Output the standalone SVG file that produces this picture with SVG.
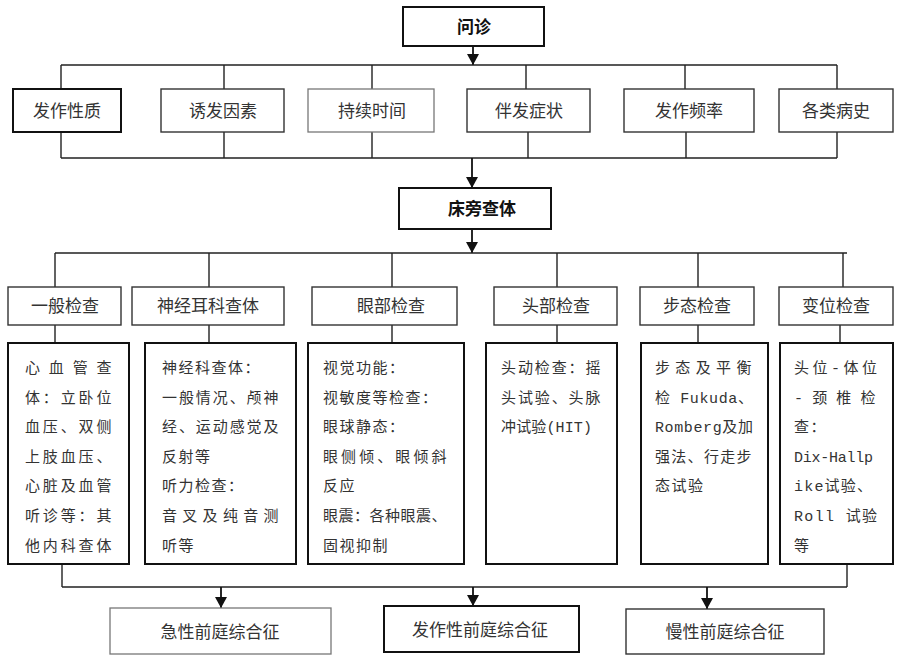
<svg xmlns="http://www.w3.org/2000/svg" width="900" height="659" viewBox="0 0 900 659">
<style>
.bx{fill:#fff;stroke:#333;stroke-width:1.4}
.bk{fill:#fff;stroke:#111;stroke-width:2}
.gy{fill:#fff;stroke:#777;stroke-width:1.3}
.h{font-family:"Noto Sans CJK SC",sans-serif;font-size:17px;fill:#333;text-anchor:middle}
.hb{font-family:"Noto Sans CJK SC",sans-serif;font-size:17px;fill:#111;font-weight:bold;text-anchor:middle}
.t{font-family:"Liberation Mono","Noto Sans CJK SC",monospace;font-size:15px;fill:#333;letter-spacing:1.5px}
.t0{letter-spacing:0}
.ln{fill:none;stroke:#222;stroke-width:1.4}
.ar{fill:none;stroke:#111;stroke-width:1.8}
</style>
<defs>
<marker id="arw" markerUnits="userSpaceOnUse" markerWidth="11" markerHeight="12" refX="11" refY="6" orient="auto">
<path d="M0,0 L11,6 L0,12 z" fill="#111"/>
</marker>
</defs>
<rect width="900" height="659" fill="#fff"/>
<g id="connectors">
<path class="ar" d="M473,46 V65" marker-end="url(#arw)"/>
<path class="ln" d="M61,65 H837 M61,65 V89 M224,65 V89 M372,65 V89 M526,65 V89 M685,65 V89 M837,65 V89"/>
<path class="ln" d="M61,132 V158 M224,132 V158 M372,132 V158 M528,132 V158 M686,132 V158 M837,132 V158 M61,158 H837"/>
<path class="ar" d="M472,158 V188" marker-end="url(#arw)"/>
<path class="ar" d="M472,229 V253" marker-end="url(#arw)"/>
<path class="ln" d="M55,253 H847 M55,253 V287 M209,253 V287 M392,253 V287 M557,253 V287 M698,253 V287 M843,253 V287"/>
<path class="ln" d="M55,325 V343 M209,325 V343 M392,325 V343 M557,325 V343 M698,325 V343 M840,325 V343"/>
<path class="ln" d="M62,564 V587 M847,564 V587 M62,587 H847"/>
<path class="ar" d="M221,587 V608" marker-end="url(#arw)"/>
<path class="ar" d="M473,587 V606" marker-end="url(#arw)"/>
<path class="ar" d="M707,587 V609" marker-end="url(#arw)"/>
</g>
<g id="wenzhen"><rect class="bk" x="403" y="7" width="141" height="39"/><text class="hb" x="474" y="33">问诊</text></g>
<g id="fazuoxingzhi"><rect class="bk" x="13" y="89" width="108" height="43"/><text class="h" x="67" y="117">发作性质</text></g>
<g id="youfayinsu"><rect class="bx" x="161" y="89" width="123" height="43"/><text class="h" x="223" y="117">诱发因素</text></g>
<g id="chixushijian"><rect class="gy" x="308" y="89" width="126" height="43"/><text class="h" x="372" y="117">持续时间</text></g>
<g id="banfazhengzhuang"><rect class="bx" x="467" y="89" width="123" height="43"/><text class="h" x="529" y="117">伴发症状</text></g>
<g id="fazuopinlv"><rect class="bx" x="624" y="89" width="130" height="43"/><text class="h" x="689" y="117">发作频率</text></g>
<g id="geleibingshi"><rect class="bx" x="779" y="89" width="114" height="43"/><text class="h" x="836" y="117">各类病史</text></g>
<g id="chuangpangchati"><rect class="bk" x="399" y="188" width="152" height="41"/><text class="hb" x="482" y="215">床旁查体</text></g>
<g id="yibanjiancha"><rect class="bx" x="8" y="287" width="113" height="38"/><text class="h" x="65" y="312">一般检查</text></g>
<g id="shenjingerke"><rect class="bx" x="132" y="287" width="152" height="38"/><text class="h" x="208" y="312">神经耳科查体</text></g>
<g id="yanbu"><rect class="bx" x="312" y="287" width="145" height="38"/><text class="h" x="391" y="312">眼部检查</text></g>
<g id="toubu"><rect class="bx" x="494" y="287" width="123" height="38"/><text class="h" x="556" y="312">头部检查</text></g>
<g id="butai"><rect class="bx" x="640" y="287" width="114" height="38"/><text class="h" x="697" y="312">步态检查</text></g>
<g id="bianwei"><rect class="bx" x="779" y="287" width="114" height="38"/><text class="h" x="836" y="312">变位检查</text></g>
<g id="c1"><rect class="bk" x="8" y="343" width="121" height="221"/>
<text class="t" x="25" y="373" textLength="88" lengthAdjust="spacing">心血管查</text>
<text class="t" x="25" y="402.6" textLength="88" lengthAdjust="spacing">体：立卧位</text>
<text class="t" x="25" y="432.2" textLength="88" lengthAdjust="spacing">血压、双侧</text>
<text class="t" x="25" y="461.8" textLength="88" lengthAdjust="spacing">上肢血压、</text>
<text class="t" x="25" y="491.4" textLength="88" lengthAdjust="spacing">心脏及血管</text>
<text class="t" x="25" y="521" textLength="88" lengthAdjust="spacing">听诊等：其</text>
<text class="t" x="25" y="550.6" textLength="88" lengthAdjust="spacing">他内科查体</text>
</g>
<g id="c2"><rect class="bk" x="145" y="343" width="151" height="221"/>
<text class="t" x="162" y="373">神经科查体：</text>
<text class="t" x="162" y="402.6" textLength="118" lengthAdjust="spacing">一般情况、颅神</text>
<text class="t" x="162" y="432.2" textLength="118" lengthAdjust="spacing">经、运动感觉及</text>
<text class="t" x="162" y="461.8">反射等</text>
<text class="t" x="162" y="491.4">听力检查：</text>
<text class="t" x="162" y="521" textLength="118" lengthAdjust="spacing">音叉及纯音测</text>
<text class="t" x="162" y="550.6">听等</text>
</g>
<g id="c3"><rect class="bk" x="308" y="343" width="156" height="221"/>
<text class="t" x="323" y="373">视觉功能：</text>
<text class="t" x="323" y="402.6">视敏度等检查：</text>
<text class="t" x="323" y="432.2">眼球静态：</text>
<text class="t" x="323" y="461.8" textLength="125" lengthAdjust="spacing">眼侧倾、眼倾斜</text>
<text class="t" x="323" y="491.4">反应</text>
<text class="t" x="323" y="521" textLength="125" lengthAdjust="spacing">眼震：各种眼震、</text>
<text class="t" x="323" y="550.6">固视抑制</text>
</g>
<g id="c4"><rect class="bk" x="486" y="343" width="131" height="221"/>
<text class="t" x="501" y="373" textLength="101" lengthAdjust="spacing">头动检查：摇</text>
<text class="t" x="501" y="402.6" textLength="101" lengthAdjust="spacing">头试验、头脉</text>
<text class="t t0" x="501" y="432.2" textLength="91" lengthAdjust="spacing">冲试验(HIT)</text>
</g>
<g id="c5"><rect class="bk" x="641" y="343" width="127" height="221"/>
<text class="t" x="655" y="373" textLength="98" lengthAdjust="spacing">步态及平衡</text>
<text class="t t0" x="655" y="402.6" textLength="98" lengthAdjust="spacing">检 Fukuda、</text>
<text class="t t0" x="655" y="432.2" textLength="98" lengthAdjust="spacing">Romberg及加</text>
<text class="t" x="655" y="461.8" textLength="98" lengthAdjust="spacing">强法、行走步</text>
<text class="t" x="655" y="491.4">态试验</text>
</g>
<g id="c6"><rect class="bk" x="780" y="343" width="113" height="221"/>
<text class="t t0" x="794" y="373" textLength="83" lengthAdjust="spacing">头位-体位</text>
<text class="t" x="794" y="402.6" textLength="83" lengthAdjust="spacing">-颈椎检</text>
<text class="t" x="794" y="432.2">查：</text>
<text class="t t0" x="794" y="461.8" textLength="79" lengthAdjust="spacing">Dix-Hallp</text>
<text class="t t0" x="794" y="491.4" textLength="78" lengthAdjust="spacing">ike试验、</text>
<text class="t t0" x="794" y="521" textLength="83" lengthAdjust="spacing">Roll 试验</text>
<text class="t" x="794" y="550.6">等</text>
</g>
<g id="jixing"><rect class="gy" x="110" y="608" width="221" height="46"/><text class="h" x="220" y="638">急性前庭综合征</text></g>
<g id="fazuoxing"><rect class="bk" x="384" y="606" width="195" height="46"/><text class="h" x="480" y="636">发作性前庭综合征</text></g>
<g id="manxing"><rect class="bx" x="626" y="609" width="198" height="45"/><text class="h" x="725" y="638">慢性前庭综合征</text></g>
</svg>
